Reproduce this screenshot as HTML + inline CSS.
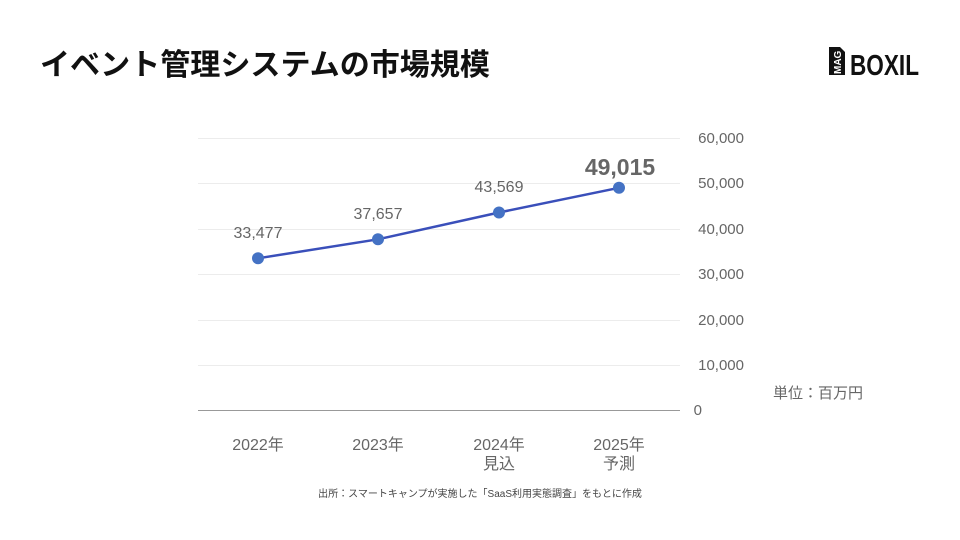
<!DOCTYPE html>
<html><head><meta charset="utf-8"><style>
body{margin:0;background:#fff;}
svg{display:block;}
</style></head><body>
<svg width="960" height="540" xmlns="http://www.w3.org/2000/svg" font-family="Liberation Sans, Noto Sans CJK JP, sans-serif">
<rect width="960" height="540" fill="#fff"/>
<text x="40" y="75" font-size="30" font-weight="bold" fill="#111" textLength="450" lengthAdjust="spacingAndGlyphs">イベント管理システムの市場規模</text>
<g>
<rect x="829" y="47" width="16" height="28" fill="#111"/>
<polygon points="840,47 846,47 846,53" fill="#fff"/>
<text transform="translate(841,74) rotate(-90)" font-size="10" font-weight="bold" fill="#fff">MAG</text>
<text x="850" y="75" font-size="29" font-weight="bold" fill="#111" textLength="69" lengthAdjust="spacingAndGlyphs">BOXIL</text>
</g>
<g stroke="#ececec" stroke-width="1">
<line x1="198" y1="138.5" x2="680" y2="138.5"/>
<line x1="198" y1="183.5" x2="680" y2="183.5"/>
<line x1="198" y1="229.5" x2="680" y2="229.5"/>
<line x1="198" y1="274.5" x2="680" y2="274.5"/>
<line x1="198" y1="320.5" x2="680" y2="320.5"/>
<line x1="198" y1="365.5" x2="680" y2="365.5"/>
</g>
<line x1="198" y1="410.5" x2="680" y2="410.5" stroke="#999" stroke-width="1"/>
<g font-size="15" fill="#666" text-anchor="end">
<text x="744" y="143">60,000</text>
<text x="744" y="188">50,000</text>
<text x="744" y="234">40,000</text>
<text x="744" y="279">30,000</text>
<text x="744" y="325">20,000</text>
<text x="744" y="370">10,000</text>
<text x="702" y="415">0</text>
</g>
<text x="773" y="398" font-size="15" fill="#666">単位：百万円</text>
<polyline points="258,258.3 378,239.3 499,212.5 619,187.8" fill="none" stroke="#3a4fba" stroke-width="2.5"/>
<g fill="#4472c4">
<circle cx="258" cy="258.3" r="6"/><circle cx="378" cy="239.3" r="6"/><circle cx="499" cy="212.5" r="6"/><circle cx="619" cy="187.8" r="6"/>
</g>
<g font-size="16" fill="#666" text-anchor="middle">
<text x="258" y="238">33,477</text>
<text x="378" y="219">37,657</text>
<text x="499" y="192">43,569</text>
<text x="620" y="175" font-size="23" font-weight="bold">49,015</text>
</g>
<g font-size="16" fill="#666" text-anchor="middle">
<text x="258" y="450">2022年</text>
<text x="378" y="450">2023年</text>
<text x="499" y="450">2024年</text>
<text x="499" y="469">見込</text>
<text x="619" y="450">2025年</text>
<text x="619" y="469">予測</text>
</g>
<text x="480" y="497" font-size="10" fill="#444" text-anchor="middle">出所：スマートキャンプが実施した「SaaS利用実態調査」をもとに作成</text>
</svg>
</body></html>
